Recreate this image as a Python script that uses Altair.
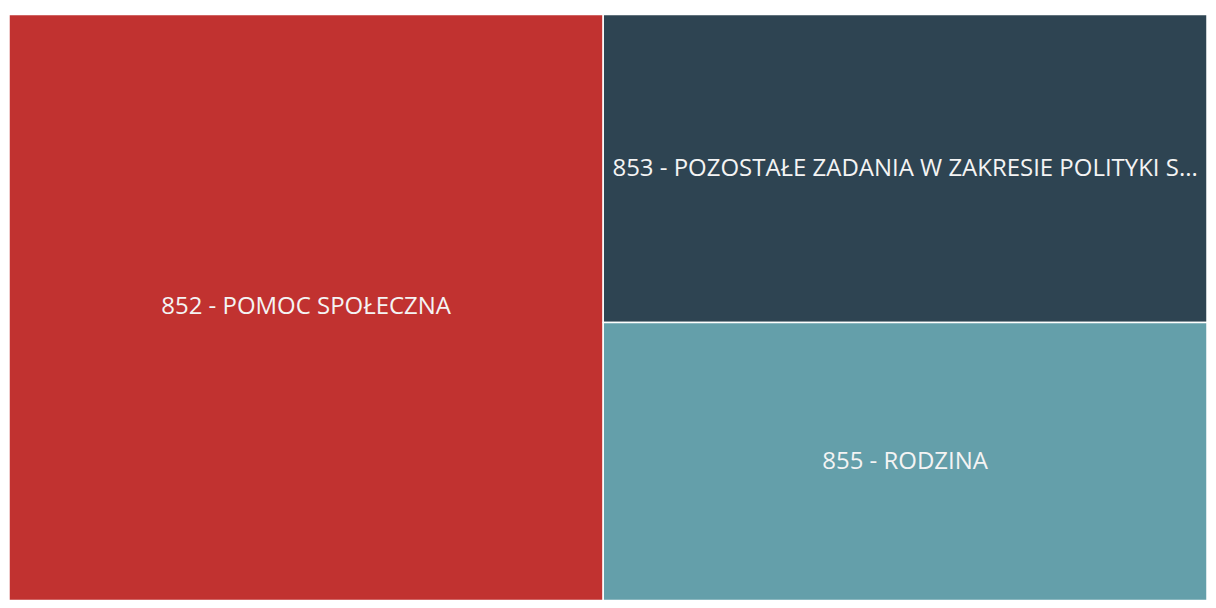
import altair as alt
import pandas as pd

# Treemap data (relative amounts)
labels = [
    "852 - POMOC SPOŁECZNA",
    "853 - POZOSTAŁE ZADANIA W ZAKRESIE POLITYKI SPOŁECZNEJ",
    "855 - RODZINA",
]
values = [49.6, 26.5, 23.9]
colors = ["#C13230", "#2E4452", "#649FAA"]

# Layout: the largest category fills the left column, the rest are stacked in the right one
total = sum(values)
rows = []
first = values[0]
rows.append(dict(label=labels[0], x=0.0, x2=first, y=0.0, y2=1.0, color=colors[0]))
rest = sum(values[1:])
acc = 0.0
for lab, v, c in zip(labels[1:], values[1:], colors[1:]):
    rows.append(dict(label=lab, x=first, x2=total, y=acc / rest, y2=(acc + v) / rest, color=c))
    acc += v
df = pd.DataFrame(rows)
df["cx"] = (df["x"] + df["x2"]) / 2
df["cy"] = (df["y"] + df["y2"]) / 2

xs = alt.Scale(domain=[0, total], nice=False, zero=False)
ys = alt.Scale(domain=[0, 1], nice=False, zero=False, reverse=True)

base = alt.Chart(df)
rects = base.mark_rect(stroke="white", strokeWidth=1.5).encode(
    x=alt.X("x:Q", scale=xs, axis=None),
    x2="x2:Q",
    y=alt.Y("y:Q", scale=ys, axis=None),
    y2="y2:Q",
    color=alt.Color("color:N", scale=None, legend=None),
)
texts = base.mark_text(
    align="center", baseline="middle", font="Open Sans", fontSize=24,
    color="#F4F4F4", limit=592, ellipsis="...",
).encode(
    x=alt.X("cx:Q", scale=xs, axis=None),
    y=alt.Y("cy:Q", scale=ys, axis=None),
    text="label:N",
)

chart = (rects + texts).properties(
    width=1200, height=587,
    padding={"top": 5, "left": 0, "right": 0, "bottom": 0},
).configure_view(stroke=None)

chart.save("out.html", embed_options={"renderer": "svg", "actions": False})
